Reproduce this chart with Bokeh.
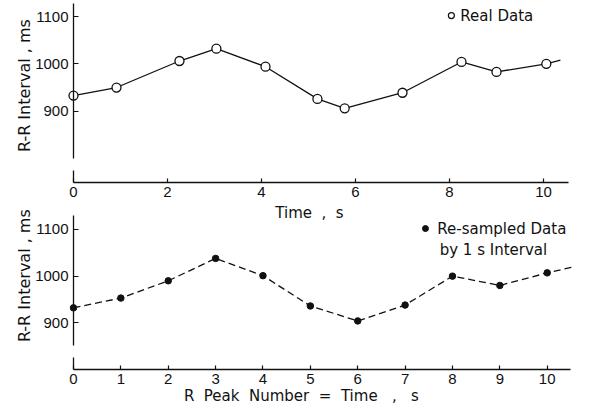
from bokeh.plotting import figure
from bokeh.models import Range1d, LinearAxis, FixedTicker, Label
from bokeh.embed import file_html
from bokeh.resources import INLINE

# ---- data ----
# top panel: real R-R intervals at the times of the R peaks
real_time = [0.0, 0.915, 2.255, 3.04, 4.085, 5.19, 5.77, 7.0, 8.255, 9.0, 10.06]
real_rr = [933, 950, 1006, 1032, 994, 926, 906, 939, 1004, 983, 1000]
real_tail_time = [10.36]
real_tail_rr = [1008]

# bottom panel: re-sampled by 1 s interval
resampled_time = [0, 1, 2, 3, 4, 5, 6, 7, 8, 9, 10]
resampled_rr = [932, 953, 990, 1038, 1001, 936, 904, 938, 1000, 980, 1007]
resampled_tail_time = [10.51]
resampled_tail_rr = [1019]

top_xticks = [0, 2, 4, 6, 8, 10]
bottom_xticks = [0, 1, 2, 3, 4, 5, 6, 7, 8, 9, 10]
yticks = [900, 1000, 1100]

NB = "\u00a0"
FONT = "DejaVu Sans"
TICK_FONT = "Liberation Sans"
INK = "#111111"

# one frame covering the whole canvas; each panel has its own ranges
p = figure(width=591, height=416,
           x_range=Range1d(-1.541, 10.935), y_range=Range1d(699.1, 1590.9),
           output_backend="svg", toolbar_location=None,
           x_axis_type=None, y_axis_type=None,
           min_border_left=0, min_border_right=0, min_border_top=0, min_border_bottom=0)
p.extra_x_ranges = {"top_x": Range1d(-1.5532, 11.0213)}
p.extra_y_ranges = {"top_y": Range1d(255.2, 1133.8)}
p.outline_line_color = None
p.background_fill_color = "white"
p.border_fill_color = "white"


def style_axis(ax):
    ax.axis_line_color = INK
    ax.axis_line_width = 1.3
    ax.major_tick_line_color = INK
    ax.major_tick_line_width = 1.2
    ax.minor_tick_line_color = None
    ax.major_tick_in = 4
    ax.major_tick_out = 0
    ax.major_label_text_font = TICK_FONT
    ax.major_label_text_font_size = "15px"
    ax.major_label_text_color = INK
    return ax


def add_axes(xr, yr, xticks, x_loc, xbounds, ybounds, stub_top, xstandoff):
    xa = style_axis(LinearAxis(x_range_name=xr, y_range_name=yr, ticker=FixedTicker(ticks=xticks),
                               bounds=xbounds, fixed_location=x_loc))
    xa.major_label_standoff = xstandoff
    p.add_layout(xa, "below")
    ya = style_axis(LinearAxis(x_range_name=xr, y_range_name=yr, ticker=FixedTicker(ticks=yticks),
                               bounds=ybounds, fixed_location=0))
    ya.major_tick_in = 5
    ya.major_label_standoff = 5
    p.add_layout(ya, "left")
    stub = style_axis(LinearAxis(x_range_name=xr, y_range_name=yr, ticker=FixedTicker(ticks=[]),
                                 bounds=(x_loc, stub_top), fixed_location=0))
    stub.major_label_text_font_size = "0px"
    p.add_layout(stub, "left")


def add_label(x, y, text, xr="default", yr="default", size="15px", align="left", angle=0):
    p.add_layout(Label(x=x, y=y, text=text, x_range_name=xr, y_range_name=yr,
                       text_font=FONT, text_font_size=size, text_color=INK,
                       text_align=align, text_baseline="middle",
                       angle=angle, angle_units="deg"))


# ---- top panel ----
add_axes("top_x", "top_y", top_xticks, 749.4, (0, 10.53), (801, 1128), 775, 4)
p.line(real_time + real_tail_time, real_rr + real_tail_rr, line_color=INK, line_width=1.3,
       x_range_name="top_x", y_range_name="top_y")
p.scatter(real_time, real_rr, marker="circle", size=9, fill_color="white",
          line_color=INK, line_width=1.3, x_range_name="top_x", y_range_name="top_y")
p.scatter([8.04], [1102], marker="circle", size=6, fill_color="white",
          line_color=INK, line_width=1.2, x_range_name="top_x", y_range_name="top_y")
add_label(8.23, 1102, "Real Data", "top_x", "top_y")
add_label(5.02, 684, f"Time{NB} ,{NB} s", "top_x", "top_y", align="center")
add_label(-1.032, 954, "R-R Interval , ms", "top_x", "top_y", size="16px",
          align="center", angle=90)

# ---- bottom panel ----
add_axes("default", "default", bottom_xticks, 800, (0, 10.49), (851, 1130), 826, 5)
p.line(resampled_time + resampled_tail_time, resampled_rr + resampled_tail_rr,
       line_color=INK, line_width=1.3, line_dash="7 4")
p.scatter(resampled_time, resampled_rr, marker="circle", size=6.5,
          fill_color=INK, line_color=INK)
p.scatter([7.43], [1102], marker="circle", size=6, fill_color=INK, line_color=INK)
add_label(7.68, 1102, "Re-sampled Data")
add_label(7.73, 1055, "by 1 s Interval")
add_label(4.81, 744, f"R{NB} Peak{NB} Number{NB} ={NB} Time{NB} {NB},{NB} {NB}s", align="center")
add_label(-1.024, 1001, "R-R Interval , ms", size="16px", align="center", angle=90)

open("out.html", "w").write(file_html(p, INLINE))
